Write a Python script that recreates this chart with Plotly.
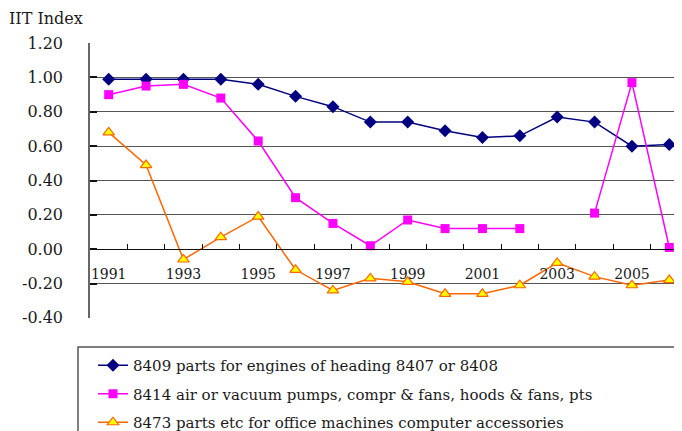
import plotly.graph_objects as go

years = list(range(1991, 2007))
s8409 = [0.99, 0.99, 0.99, 0.99, 0.96, 0.89, 0.83, 0.74, 0.74, 0.69, 0.65, 0.66, 0.77, 0.74, 0.60, 0.61]
s8414 = [0.90, 0.95, 0.96, 0.88, 0.63, 0.30, 0.15, 0.02, 0.17, 0.12, 0.12, 0.12, None, 0.21, 0.97, 0.01]
s8473 = [0.68, 0.49, -0.06, 0.07, 0.19, -0.12, -0.24, -0.17, -0.19, -0.26, -0.26, -0.21, -0.08, -0.16, -0.21, -0.18]
names = ["8409 parts for engines of heading 8407 or 8408",
         "8414 air or vacuum pumps, compr & fans, hoods & fans, pts",
         "8473 parts etc for office machines computer accessories"]
y_ticks = [-0.4, -0.2, 0.0, 0.2, 0.4, 0.6, 0.8, 1.0, 1.2]
x_label_years = [1991, 1993, 1995, 1997, 1999, 2001, 2003, 2005]

FONT = "DejaVu Serif"
TXT = "#1a1a1a"
# page body has an 8px margin: plot area spans x 90..688, y 43..318 on screen
PW, PH = 598, 275
def px(x): return (x - 90) / PW
def py(y): return (318 - y) / PH

fig = go.Figure()
fig.add_trace(go.Scatter(x=years, y=s8409, name=names[0], mode="lines+markers",
                         line=dict(color="#000080", width=1.5),
                         marker=dict(symbol="diamond", size=10, color="#000080"),
                         legendgroup="a"))
fig.add_trace(go.Scatter(x=years, y=s8414, name=names[1], mode="lines+markers",
                         line=dict(color="#FF00FF", width=1.5),
                         marker=dict(symbol="square", size=9, color="#FF00FF"),
                         connectgaps=False, legendgroup="b"))
fig.add_trace(go.Scatter(x=years, y=s8473, name=names[2], mode="lines+markers",
                         line=dict(color="#FF6600", width=1.5),
                         marker=dict(symbol="triangle-up", size=10, color="#FFFF00",
                                     line=dict(color="#FF6600", width=1.2)),
                         legendgroup="c"))

fig.update_layout(
    width=682, height=431,
    margin=dict(l=82, r=2, t=35, b=121, autoexpand=False),
    paper_bgcolor="white", plot_bgcolor="white",
    font=dict(family=FONT, size=14, color=TXT),
    showlegend=True,
    legend=dict(x=px(93), y=py(349), xanchor="left", yanchor="top",
                bgcolor="rgba(0,0,0,0)", borderwidth=0,
                tracegroupgap=6, traceorder="grouped",
                font=dict(family=FONT, size=15, color=TXT)),
    xaxis=dict(range=[1990.5, 2006.5], anchor="free", position=0.25,
               showline=True, linecolor="#111", linewidth=1,
               showgrid=False, zeroline=False,
               tickmode="array", tickvals=x_label_years,
               ticktext=[str(y) for y in x_label_years],
               ticks="", ticklabelstandoff=12,
               minor=dict(tickmode="array", tickvals=[y + 0.5 for y in years],
                          ticks="inside", ticklen=5, tickcolor="#111", showgrid=False)),
    yaxis=dict(range=[-0.4008, 1.2008], tickmode="array", tickvals=y_ticks,
               ticktext=[f"{v:.2f}" for v in y_ticks],
               tickfont=dict(family=FONT, size=16, color=TXT),
               showgrid=True, gridcolor="#555", gridwidth=1,
               zeroline=False, showline=True, linecolor="#666", linewidth=1.5,
               ticks="inside", ticklen=7, tickcolor="#111", tickwidth=1.5,
               ticklabelstandoff=22),
)

fig.add_annotation(text="IIT Index", xref="paper", yref="paper",
                   x=px(8), y=1 + 35 / PH, xanchor="left", yanchor="top",
                   borderpad=0, showarrow=False,
                   font=dict(family=FONT, size=16, color=TXT))

fig.add_shape(type="rect", xref="paper", yref="paper",
              x0=px(78), x1=1.05, y0=py(347), y1=-0.6,
              line=dict(color="#555", width=1.5), fillcolor="rgba(0,0,0,0)")

fig.write_html("out.html")
